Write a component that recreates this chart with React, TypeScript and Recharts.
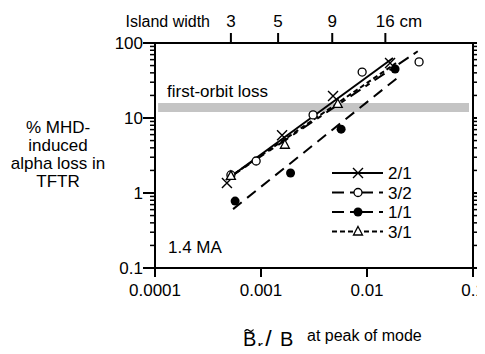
import { ComposedChart, XAxis, YAxis, Scatter, Line, ReferenceArea } from 'recharts'

const FONT = "'Liberation Sans', Arial, sans-serif"

// axis ticks
const xMajorTicks = [0.0001, 0.001, 0.01, 0.1]
const xMajorLabels = ['0.0001', '0.001', '0.01', '0.1']
const yMajorTicks = [0.1, 1, 10, 100]
const yMajorLabels = ['0.1', '1', '10', '100']
const minorSteps = [2, 3, 4, 5, 6, 7, 8, 9]
const islandTicks = [0.00052, 0.00145, 0.0047, 0.0149]
const islandLabels = ['3', '5', '9', '16 cm']

// measured points, x = Br/B, y = % loss
const pts21 = [
  { x: 0.000477, y: 1.36 },
  { x: 0.00158, y: 5.9 },
  { x: 0.00478, y: 19.6 },
  { x: 0.0165, y: 54 },
]
const pts32 = [
  { x: 0.00052, y: 1.74 },
  { x: 0.0009, y: 2.67 },
  { x: 0.0031, y: 11 },
  { x: 0.009, y: 41 },
  { x: 0.031, y: 56 },
]
const pts11 = [
  { x: 0.00057, y: 0.78 },
  { x: 0.0019, y: 1.85 },
  { x: 0.0057, y: 7.1 },
  { x: 0.0184, y: 45 },
]
const pts31 = [
  { x: 0.00052, y: 1.69 },
  { x: 0.00168, y: 4.4 },
  { x: 0.0053, y: 15.4 },
]

// fit lines (end points)
const fit21 = [{ x: 0.000468, y: 1.49 }, { x: 0.0176, y: 63 }]
const fit32 = [{ x: 0.00051, y: 1.63 }, { x: 0.0303, y: 78 }]
const fit11 = [{ x: 0.000545, y: 0.61 }, { x: 0.0192, y: 34 }]
const fit31 = [{ x: 0.000489, y: 1.58 }, { x: 0.0188, y: 54 }]

// first-orbit loss band
const bandX = [0.000107, 0.0917]
const bandY = [12, 15.8]

const yTicks = yMajorTicks.slice(0, 3).flatMap(d => [d, ...minorSteps.map(s => d * s)]).concat([100])

const isMajorY = (v: number) => yMajorTicks.some(m => Math.abs(m - v) / m < 1e-6)

const BottomTick = ({ x, y, payload }: any) => {
  const i = xMajorTicks.indexOf(payload.value)
  return (
    <g>
      <line x1={x} x2={x} y1={y} y2={y + 9} stroke="#000" strokeWidth={2} />
      <text x={x} y={y + 28} textAnchor="middle" fontSize={17} fontFamily={FONT} fill="#000">
        {xMajorLabels[i]}
      </text>
    </g>
  )
}

const TopTick = ({ x, y, payload }: any) => {
  const i = islandTicks.indexOf(payload.value)
  const label = islandLabels[i]
  const unit = label.includes(' cm')
  return (
    <g>
      <line x1={x} x2={x} y1={y} y2={y - 10} stroke="#000" strokeWidth={2} />
      <text
        x={unit ? x - 9.5 : x}
        y={y - 16}
        textAnchor={unit ? 'start' : 'middle'}
        fontSize={17}
        fontFamily={FONT}
        fill="#000"
        style={{ whiteSpace: 'pre' }}
      >
        {label}
      </text>
    </g>
  )
}

const LeftTick = ({ x, y, payload }: any) => {
  const major = isMajorY(payload.value)
  const i = yMajorTicks.findIndex(m => Math.abs(m - payload.value) / m < 1e-6)
  return (
    <g>
      <line x1={x} x2={x - (major ? 12 : 5)} y1={y} y2={y} stroke="#000" strokeWidth={major ? 2 : 1.5} />
      {major && (
        <text x={x - 12} y={y + 6} textAnchor="end" fontSize={17} fontFamily={FONT} fill="#000">
          {yMajorLabels[i]}
        </text>
      )}
    </g>
  )
}

const RightTick = ({ x, y, payload }: any) => {
  const major = isMajorY(payload.value)
  return <line x1={x} x2={x + (major ? 9 : 6)} y1={y} y2={y} stroke="#000" strokeWidth={major ? 2 : 1.5} />
}

const Cross = ({ cx, cy }: any) => (
  <path d={`M${cx - 5},${cy - 5}L${cx + 5},${cy + 5}M${cx - 5},${cy + 5}L${cx + 5},${cy - 5}`} stroke="#000" strokeWidth={1.4} />
)
const OpenCircle = ({ cx, cy }: any) => <circle cx={cx} cy={cy} r={4} fill="#fff" stroke="#000" strokeWidth={1.3} />
const Dot = ({ cx, cy }: any) => <circle cx={cx} cy={cy} r={4.5} fill="#000" />
const Triangle = ({ cx, cy }: any) => (
  <path d={`M${cx},${cy - 5}L${cx + 4.5},${cy + 3.5}L${cx - 4.5},${cy + 3.5}Z`} fill="#fff" stroke="#000" strokeWidth={1.3} />
)

const legendRows = [
  { label: '2/1', dash: undefined, Marker: Cross },
  { label: '3/2', dash: '12 6 5 6', Marker: OpenCircle },
  { label: '1/1', dash: '12 6 5 6', Marker: Dot },
  { label: '3/1', dash: '5 3', Marker: Triangle },
]

export default function App() {
  const axisLine = { stroke: '#000', strokeWidth: 2 }
  return (
    <div style={{ position: 'relative', width: 485, height: 354, margin: -8, background: '#fff' }}>
      <ComposedChart width={485} height={354} margin={{ top: 0, right: 0, bottom: 0, left: 0 }} style={{ overflow: 'visible' }}>
        <XAxis
          dataKey="x"
          type="number"
          scale="log"
          domain={[0.0001, 0.1]}
          allowDataOverflow
          ticks={xMajorTicks}
          interval={0}
          height={86}
          tickSize={0}
          tickMargin={0}
          tickLine={false}
          axisLine={axisLine}
          tick={<BottomTick />}
        />
        <XAxis
          xAxisId="top"
          orientation="top"
          dataKey="x"
          type="number"
          scale="log"
          domain={[0.0001, 0.1]}
          allowDataOverflow
          ticks={islandTicks}
          interval={0}
          height={43}
          tickSize={0}
          tickMargin={0}
          tickLine={false}
          axisLine={axisLine}
          tick={<TopTick />}
        />
        <YAxis
          dataKey="y"
          type="number"
          scale="log"
          domain={[0.1, 100]}
          allowDataOverflow
          ticks={yTicks}
          interval={0}
          width={155}
          tickSize={0}
          tickMargin={0}
          tickLine={false}
          axisLine={axisLine}
          tick={<LeftTick />}
        />
        <YAxis
          yAxisId="right"
          orientation="right"
          dataKey="y"
          type="number"
          scale="log"
          domain={[0.1, 100]}
          allowDataOverflow
          ticks={yTicks}
          interval={0}
          width={12}
          tickSize={0}
          tickMargin={0}
          tickLine={false}
          axisLine={axisLine}
          tick={<RightTick />}
        />
        <ReferenceArea x1={bandX[0]} x2={bandX[1]} y1={bandY[0]} y2={bandY[1]} fill="#c4c4c4" fillOpacity={1} stroke="none" />
        <Line data={fit21} dataKey="y" stroke="#000" strokeWidth={2} dot={false} isAnimationActive={false} />
        <Line data={fit32} dataKey="y" stroke="#000" strokeWidth={2} strokeDasharray="12 6 5 6" dot={false} isAnimationActive={false} />
        <Line data={fit11} dataKey="y" stroke="#000" strokeWidth={2} strokeDasharray="11 7" dot={false} isAnimationActive={false} />
        <Line data={fit31} dataKey="y" stroke="#000" strokeWidth={2} strokeDasharray="5 3" dot={false} isAnimationActive={false} />
        <Scatter data={pts21} dataKey="y" shape={<Cross />} isAnimationActive={false} />
        <Scatter data={pts32} dataKey="y" shape={<OpenCircle />} isAnimationActive={false} />
        <Scatter data={pts11} dataKey="y" shape={<Dot />} isAnimationActive={false} />
        <Scatter data={pts31} dataKey="y" shape={<Triangle />} isAnimationActive={false} />
      </ComposedChart>
      <svg
        width={485}
        height={354}
        style={{ position: 'absolute', left: 0, top: 0, pointerEvents: 'none' }}
        fontFamily={FONT}
        fill="#000"
      >
        <text x={210} y={27} textAnchor="end" fontSize={16}>Island width</text>
        <text x={167} y={97} fontSize={17}>first-orbit loss</text>
        <text x={168} y={253} fontSize={17}>1.4 MA</text>
        <g fontSize={17} textAnchor="middle">
          <text x={58} y={133}>% MHD-</text>
          <text x={58} y={151}>induced</text>
          <text x={58} y={169}>alpha loss in</text>
          <text x={58} y={187}>TFTR</text>
        </g>
        <text x={243} y={346} fontSize={20}>B</text>
        <path d="M244.5,331.5 q2,-3 4.5,-1 t4.5,-1" fill="none" stroke="#000" strokeWidth={1.3} />
        <text x={257.5} y={352} fontSize={16}>r</text>
        <text x={265} y={347} fontSize={24}>/</text>
        <text x={280} y={346} fontSize={20}>B</text>
        <text x={307} y={341} fontSize={16}>at peak of mode</text>
        {legendRows.map((r, i) => {
          const y = 173 + i * 19.5
          return (
            <g key={r.label}>
              <line x1={332} x2={383} y1={y} y2={y} stroke="#000" strokeWidth={2} strokeDasharray={r.dash} />
              <r.Marker cx={358} cy={y} />
              <text x={388} y={y + 6} fontSize={17}>{r.label}</text>
            </g>
          )
        })}
      </svg>
    </div>
  )
}
